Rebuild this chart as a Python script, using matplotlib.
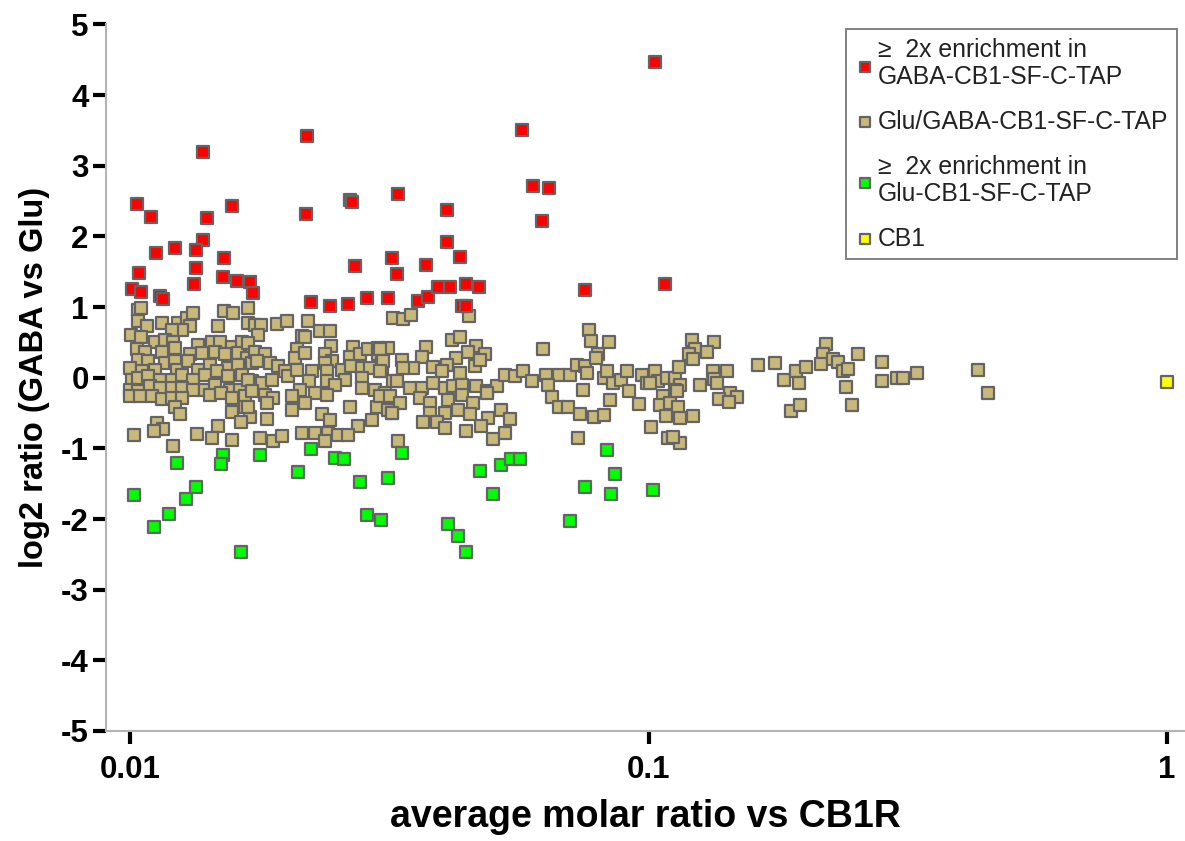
import matplotlib
matplotlib.use("Agg")
import matplotlib.pyplot as plt
import numpy as np
from matplotlib.ticker import NullLocator

plt.rcParams['font.family'] = ['Liberation Sans', 'DejaVu Sans']

# (average molar ratio vs CB1R, log2 ratio GABA vs Glu)
gaba_enriched = [
    (0.103, 4.47), (0.0570, 3.50), (0.0599, 2.71), (0.0643, 2.69), (0.0623, 2.22),
    (0.0754, 1.24), (0.1076, 1.32), (0.0219, 3.42), (0.0138, 3.19), (0.0103, 2.46),
    (0.0110, 2.28), (0.0141, 2.26), (0.0157, 2.43), (0.0218, 2.32), (0.0266, 2.51),
    (0.0268, 2.49), (0.0328, 2.60), (0.0408, 2.37), (0.0138, 1.95), (0.0112, 1.77),
    (0.0122, 1.83), (0.0134, 1.81), (0.0408, 1.92), (0.0432, 1.71), (0.0152, 1.70),
    (0.0134, 1.56), (0.0272, 1.58), (0.0320, 1.69), (0.0327, 1.47), (0.0372, 1.59),
    (0.0104, 1.48), (0.0151, 1.43), (0.0161, 1.37), (0.0170, 1.36), (0.0133, 1.33),
    (0.0173, 1.20), (0.0101, 1.26), (0.0105, 1.22), (0.0114, 1.15), (0.0116, 1.11),
    (0.0223, 1.07), (0.0243, 1.02), (0.0263, 1.04), (0.0287, 1.13), (0.0315, 1.13),
    (0.0360, 1.09), (0.0376, 1.14), (0.0393, 1.29), (0.0414, 1.28), (0.0444, 1.32),
    (0.0470, 1.28), (0.0436, 1.02), (0.0445, 1.02),
]

glu_enriched = [
    (0.0123, -1.21), (0.0151, -1.10), (0.0150, -1.22), (0.0178, -1.09), (0.0223, -1.01),
    (0.0248, -1.14), (0.0259, -1.15), (0.0334, -1.06), (0.0474, -1.32), (0.0519, -1.24),
    (0.0543, -1.15), (0.0565, -1.15), (0.0502, -1.65), (0.0211, -1.34), (0.0278, -1.48),
    (0.0315, -1.42), (0.0102, -1.66), (0.0134, -1.55), (0.0128, -1.72), (0.0119, -1.93),
    (0.0111, -2.11), (0.0287, -1.94), (0.0305, -2.01), (0.0410, -2.07), (0.0430, -2.24),
    (0.0444, -2.47), (0.0164, -2.47), (0.0705, -2.03), (0.0754, -1.54), (0.0833, -1.02),
    (0.0846, -1.64), (0.0861, -1.36), (0.102, -1.59),
]

both = [
    # 0.01 - 0.017
    (0.01035, 0.96), (0.0105, 0.99), (0.01037, 0.80), (0.01077, 0.73), (0.01154, 0.78),
    (0.01236, 0.77), (0.01287, 0.85), (0.01325, 0.91), (0.01305, 0.73), (0.01261, 0.67),
    (0.01203, 0.67), (0.0152, 0.95), (0.01582, 0.92), (0.01476, 0.73), (0.01686, 0.99),
    (0.01686, 0.78), (0.01004, 0.60), (0.0105, 0.58), (0.01117, 0.50), (0.01168, 0.53),
    (0.01212, 0.51), (0.01032, 0.40), (0.01069, 0.37), (0.01151, 0.36), (0.01221, 0.42),
    (0.01354, 0.47), (0.01437, 0.51), (0.01491, 0.51), (0.01571, 0.44), (0.01642, 0.51),
    (0.01716, 0.37), (0.01037, 0.25), (0.01085, 0.23), (0.01168, 0.21), (0.01221, 0.23),
    (0.01305, 0.33), (0.01375, 0.35), (0.01458, 0.37), (0.01525, 0.33), (0.01618, 0.35),
    (0.01679, 0.28), (0.0100, 0.14), (0.01053, 0.09), (0.01117, 0.11), (0.0123, 0.11),
    (0.01296, 0.23), (0.01354, 0.11), (0.01426, 0.18), (0.01547, 0.14), (0.01618, 0.18),
    (0.01716, 0.21), (0.01008, -0.03), (0.01037, 0.00), (0.01085, 0.02), (0.01142, -0.03),
    (0.01203, -0.03), (0.01258, 0.04), (0.01325, -0.03), (0.01395, 0.04), (0.01469, 0.09),
    (0.01547, 0.02), (0.01642, 0.04), (0.01716, -0.05), (0.0100, -0.17), (0.01037, -0.19),
    (0.01093, -0.12), (0.01142, -0.15), (0.01203, -0.15), (0.01258, -0.15), (0.01325, -0.17),
    (0.01395, -0.17), (0.01458, -0.10), (0.01559, -0.17), (0.0163, -0.17), (0.01716, -0.17),
    (0.0100, -0.26), (0.01045, -0.26), (0.01101, -0.26), (0.01151, -0.30), (0.01203, -0.29),
    (0.01258, -0.29), (0.01426, -0.24), (0.0150, -0.22), (0.01571, -0.29), (0.01666, -0.26),
    (0.01221, -0.41), (0.01249, -0.52), (0.01571, -0.49), (0.01666, -0.41), (0.01704, -0.55),
    (0.01637, -0.63), (0.01126, -0.64), (0.01159, -0.73), (0.01114, -0.76), (0.01019, -0.81),
    (0.01345, -0.80), (0.01476, -0.69), (0.01437, -0.85), (0.01571, -0.88), (0.01212, -0.97),
    # 0.017 - 0.033
    (0.01742, 0.75), (0.01789, 0.75), (0.01768, 0.61), (0.01918, 0.76), (0.02005, 0.81),
    (0.02204, 0.80), (0.02325, 0.66), (0.0243, 0.66), (0.02143, 0.59), (0.02175, 0.58),
    (0.02441, 0.45), (0.01686, 0.49), (0.01742, 0.37), (0.01821, 0.33), (0.02098, 0.40),
    (0.0208, 0.28), (0.02175, 0.35), (0.02377, 0.33), (0.02449, 0.23), (0.02377, 0.21),
    (0.02695, 0.44), (0.02656, 0.29), (0.02776, 0.33), (0.0288, 0.40), (0.03011, 0.42),
    (0.0315, 0.42), (0.03011, 0.33), (0.03057, 0.21), (0.01755, 0.23), (0.01862, 0.21),
    (0.01932, 0.16), (0.0199, 0.09), (0.0202, 0.02), (0.02098, 0.11), (0.02241, 0.09),
    (0.02395, 0.09), (0.02559, 0.11), (0.0267, 0.16), (0.02798, 0.14), (0.02902, 0.14),
    (0.03057, 0.09), (0.0169, -0.03), (0.01795, -0.08), (0.01876, -0.03), (0.0221, -0.05),
    (0.02395, -0.05), (0.02598, -0.03), (0.02798, 0.00), (0.03221, -0.05), (0.01716, -0.19),
    (0.01821, -0.24), (0.01889, -0.29), (0.02127, -0.17), (0.02274, -0.22), (0.02485, -0.10),
    (0.02395, -0.24), (0.02798, -0.15), (0.02968, -0.17), (0.03102, -0.22), (0.0169, -0.41),
    (0.01835, -0.36), (0.0205, -0.26), (0.0205, -0.45), (0.02175, -0.36), (0.02656, -0.41),
    (0.0299, -0.41), (0.0315, -0.45), (0.03197, -0.50), (0.02342, -0.52), (0.0243, -0.60),
    (0.01835, -0.58), (0.02925, -0.60), (0.02755, -0.69), (0.01781, -0.85), (0.01889, -0.90),
    (0.01961, -0.83), (0.02143, -0.78), (0.02274, -0.78), (0.02413, -0.78), (0.0252, -0.81),
    (0.02635, -0.81), (0.02377, -0.90),
    # 0.03 - 0.06
    (0.03214, 0.85), (0.03365, 0.83), (0.03478, 0.89), (0.04511, 0.88), (0.04171, 0.54),
    (0.04328, 0.57), (0.03034, 0.40), (0.0334, 0.25), (0.0373, 0.43), (0.03651, 0.29),
    (0.0465, 0.45), (0.04836, 0.34), (0.0449, 0.37), (0.0426, 0.28), (0.0408, 0.18),
    (0.03845, 0.15), (0.03517, 0.14), (0.03365, 0.14), (0.03076, 0.23), (0.0399, 0.10),
    (0.0432, 0.07), (0.04626, 0.16), (0.0473, 0.25), (0.03034, 0.09), (0.0327, -0.05),
    (0.03467, -0.15), (0.03651, -0.15), (0.03845, -0.08), (0.04049, -0.15), (0.0419, -0.12),
    (0.0436, -0.10), (0.0465, -0.12), (0.0487, -0.19), (0.05094, -0.12), (0.05285, 0.04),
    (0.05525, 0.03), (0.0573, 0.09), (0.0595, -0.05), (0.03034, -0.26), (0.03172, -0.26),
    (0.03316, -0.36), (0.03624, -0.29), (0.03788, -0.36), (0.0411, -0.31), (0.0436, -0.24),
    (0.0459, -0.36), (0.0487, -0.22), (0.03197, -0.50), (0.03788, -0.50), (0.04049, -0.50),
    (0.0430, -0.45), (0.04525, -0.52), (0.0520, -0.45), (0.05404, -0.59), (0.0491, -0.57),
    (0.03677, -0.62), (0.0390, -0.62), (0.04049, -0.71), (0.0445, -0.75), (0.0476, -0.69),
    (0.0501, -0.87), (0.05285, -0.78), (0.0329, -0.90),
    # 0.06 - 0.12
    (0.0626, 0.41), (0.0635, 0.04), (0.0673, 0.04), (0.0705, 0.04), (0.0639, -0.10),
    (0.0727, 0.18), (0.0754, 0.16), (0.0760, 0.07), (0.0769, 0.67), (0.0773, 0.52),
    (0.0840, 0.51), (0.0800, 0.34), (0.0793, 0.28), (0.0651, -0.27), (0.0673, -0.42),
    (0.0699, -0.41), (0.0748, -0.18), (0.0739, -0.52), (0.0784, -0.56), (0.0819, -0.53),
    (0.0819, 0.00), (0.0855, -0.08), (0.0831, 0.10), (0.0883, -0.03), (0.0910, 0.09),
    (0.0916, -0.19), (0.0843, -0.31), (0.0959, -0.37), (0.0732, -0.85), (0.101, -0.70),
    (0.0972, 0.04), (0.0992, -0.08), (0.1029, 0.09), (0.1044, -0.05), (0.1084, 0.00),
    (0.1125, 0.00), (0.1146, 0.15), (0.115, -0.10), (0.1125, -0.17), (0.1068, -0.26),
    (0.1052, -0.38), (0.110, -0.36), (0.1141, -0.41), (0.1081, -0.54), (0.115, -0.57),
    (0.1217, -0.54), (0.1089, -0.85), (0.115, -0.93), (0.1116, -0.84), (0.1007, -0.08),
    # 0.12 - 0.5
    (0.1211, 0.54), (0.1338, 0.51), (0.1229, 0.41), (0.1197, 0.33), (0.1298, 0.36),
    (0.122, 0.26), (0.1133, -0.19), (0.1257, -0.10), (0.133, 0.09), (0.1415, 0.10),
    (0.1338, -0.02), (0.1357, -0.08), (0.1436, -0.21), (0.1479, -0.27), (0.1369, -0.30),
    (0.1431, -0.34), (0.1627, 0.18), (0.1753, 0.21), (0.1825, -0.03), (0.1923, 0.10),
    (0.201, 0.15), (0.1951, -0.07), (0.1881, -0.47), (0.196, -0.38), (0.220, 0.48),
    (0.2173, 0.33), (0.2147, 0.20), (0.2272, 0.26), (0.2324, 0.22), (0.2376, 0.10),
    (0.243, 0.12), (0.2531, 0.33), (0.240, -0.13), (0.2465, -0.38), (0.2825, 0.22),
    (0.2825, -0.05), (0.3018, 0.00), (0.3091, 0.00), (0.330, 0.07), (0.432, 0.11),
    (0.452, -0.22),
]

cb1 = [(1.0, -0.06)]

labels = ['\u2265  2x enrichment in\nGABA-CB1-SF-C-TAP', 'Glu/GABA-CB1-SF-C-TAP',
          '\u2265  2x enrichment in\nGlu-CB1-SF-C-TAP', 'CB1']
colors = ['#ff0000', '#c8b97a', '#00ff00', '#ffff00']

fig = plt.figure(figsize=(11.85, 8.41), dpi=100)
ax = fig.add_axes([0.0895, 0.1308, 0.9105, 0.8401])

# порядок отрисовки: сначала общие, потом обогащённые поверх
handles = {}
for i in [1, 0, 2, 3]:
    pts = [gaba_enriched, both, glu_enriched, cb1][i]
    arr = np.array(pts)
    h = ax.scatter(arr[:, 0], arr[:, 1], marker='s', s=66, c=colors[i],
                   edgecolors='#646464', linewidths=1.6, zorder=3 + (i != 1))
    handles[i] = h

ax.set_xscale('log')
ax.set_xlim(0.00899, 1.083)
ax.set_ylim(-5, 5)
ax.set_xticks([0.01, 0.1, 1])
ax.set_xticklabels(['0.01', '0.1', '1'])
ax.xaxis.set_minor_locator(NullLocator())
ax.set_yticks(range(-5, 6))
ax.set_yticklabels([str(v) for v in range(-5, 6)])

for side in ['top', 'right']:
    ax.spines[side].set_visible(False)
for side in ['left', 'bottom']:
    ax.spines[side].set_color('#b4b4b4')
    ax.spines[side].set_linewidth(1.5)

ax.tick_params(axis='both', which='major', length=9.5, width=3, color='black',
               labelsize=22.5)
ax.tick_params(axis='x', pad=8)
ax.tick_params(axis='y', pad=3)
for lbl in ax.get_xticklabels() + ax.get_yticklabels():
    lbl.set_fontweight('bold')

ax.set_xlabel('average molar ratio vs CB1R', fontsize=27, fontweight='bold', labelpad=10)
ax.set_ylabel('log2 ratio (GABA vs Glu)', fontsize=23.5, fontweight='bold', labelpad=8)

leg = ax.legend([handles[i] for i in range(4)], labels, loc='upper right',
                bbox_to_anchor=(0.9935, 0.965), bbox_transform=fig.transFigure,
                fontsize=17.8, frameon=True, fancybox=False, markerscale=0.8,
                handletextpad=0.15, handlelength=0.8, labelspacing=0.85,
                borderpad=0.35, borderaxespad=0)
leg.get_frame().set_edgecolor('#555555')
leg.get_frame().set_linewidth(1.3)
for t in leg.get_texts():
    t.set_color('#222222')
    t.set_linespacing(1.15)

fig.savefig('out.png', dpi=100)
